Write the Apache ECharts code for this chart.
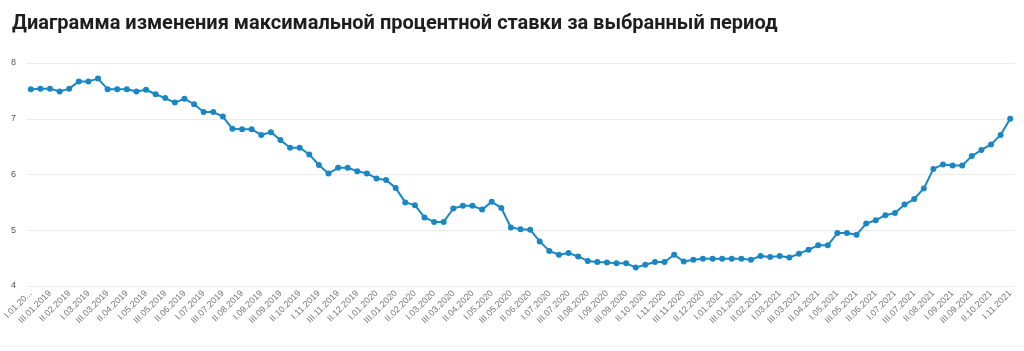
<!DOCTYPE html>
<html>
	<head>
		<meta charset="utf-8">
		<title>Диаграмма изменения максимальной процентной ставки</title>
		<style type="text/css">
			html,body {
				margin: 0;
				padding: 0;
				width: 100%;
				height: 100%;
				background: #FFFFFF;
			}
			#chart {
				width: 1024px;
				height: 351px;
			}
		</style>
	</head>
	<body>
		<div id="chart"></div>
		<script src="https://cdn.jsdelivr.net/npm/echarts@6/dist/echarts.min.js" type="text/javascript" charset="utf-8"></script>
		<script type="text/javascript">
			// декады: I, II, III каждого месяца, с I.01.2019 по I.11.2021
			var decades = ['I', 'II', 'III'];
			var years = [2019, 2020, 2021];
			var categories = [];
			years.forEach(function (y) {
				for (var m = 1; m <= 12; m++) {
					decades.forEach(function (d) {
						var mm = m < 10 ? '0' + m : '' + m;
						if (y === 2021 && (m > 11 || (m === 11 && d !== 'I'))) return;
						categories.push(d + '.' + mm + '.' + y);
					});
				}
			});

			// максимальная ставка, %
			var rates = [
				7.53, 7.54, 7.54, 7.49, 7.54, 7.67, 7.67, 7.72, 7.53, 7.53,
				7.53, 7.49, 7.52, 7.44, 7.37, 7.29, 7.36, 7.26, 7.12, 7.12,
				7.04, 6.82, 6.81, 6.81, 6.71, 6.76, 6.62, 6.48, 6.48, 6.36,
				6.17, 6.02, 6.12, 6.12, 6.06, 6.02, 5.93, 5.90, 5.76, 5.50,
				5.45, 5.23, 5.15, 5.15, 5.39, 5.44, 5.44, 5.37, 5.51, 5.40,
				5.05, 5.02, 5.01, 4.80, 4.63, 4.56, 4.59, 4.53, 4.45, 4.43,
				4.42, 4.41, 4.41, 4.33, 4.38, 4.43, 4.43, 4.56, 4.44, 4.47,
				4.49, 4.49, 4.49, 4.49, 4.49, 4.47, 4.54, 4.52, 4.54, 4.51,
				4.58, 4.65, 4.73, 4.73, 4.95, 4.95, 4.92, 5.12, 5.18, 5.27,
				5.31, 5.46, 5.56, 5.75, 6.10, 6.18, 6.16, 6.16, 6.33, 6.44,
				6.54, 6.71, 7.00
			];

			var myChart = echarts.init(document.getElementById('chart'));
			var option = {
				animation: false,
				title: {
					text: 'Диаграмма изменения максимальной процентной ставки за выбранный период',
					left: 7,
					top: 9,
					textStyle: {
						fontFamily: 'Roboto',
						fontSize: 20,
						fontWeight: 'bold',
						color: '#1e1e1e'
					}
				},
				grid: {
					left: 26,
					right: 9,
					top: 63,
					bottom: 65,
					containLabel: false
				},
				xAxis: {
					type: 'category',
					data: categories,
					axisLine: { show: false },
					axisTick: { show: false },
					axisLabel: {
						interval: 1,
						rotate: 45,
						margin: 6,
						fontFamily: 'Liberation Sans',
						fontSize: 9,
						color: '#777',
						formatter: function (v, i) {
							// первая подпись обрезана у края
							return i === 0 ? v.slice(0, 7) + '...' : v;
						}
					}
				},
				yAxis: {
					type: 'value',
					min: 4,
					max: 8,
					interval: 1,
					axisLine: { show: false },
					axisTick: { show: false },
					axisLabel: {
						margin: 10,
						fontFamily: 'Liberation Sans',
						fontSize: 9,
						color: '#555'
					},
					splitLine: {
						lineStyle: { color: '#ececec', width: 1 }
					}
				},
				graphic: [{
					type: 'line',
					shape: { x1: 0, y1: 346, x2: 1024, y2: 346 },
					style: { stroke: '#ececec', lineWidth: 1 }
				}],
				series: [{
					type: 'line',
					data: rates,
					symbol: 'circle',
					symbolSize: 6,
					itemStyle: { color: '#1a87c4' },
					lineStyle: { color: '#1a87c4', width: 2 }
				}]
			};
			myChart.setOption(option);
		</script>
	</body>
</html>
